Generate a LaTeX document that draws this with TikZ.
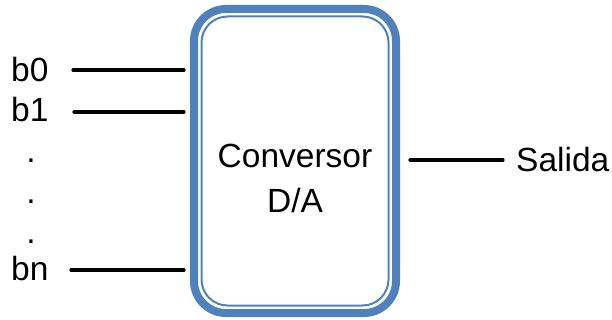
\documentclass[tikz,border=0pt]{standalone}
\usepackage{fontspec}
\setmainfont{Liberation Sans}
\usetikzlibrary{calc}
\definecolor{boxblue}{HTML}{4F81BD}
\begin{document}
\begin{tikzpicture}[x=1pt,y=-1pt,
  lbl/.style={inner sep=0pt, font=\fontsize{33.5}{40}\selectfont},
  wire/.style={line width=3.2pt, line cap=round},
  outerbox/.style={draw=boxblue, line width=8pt, rounded corners=32pt, minimum width=202pt, minimum height=304pt, inner sep=0pt, outer sep=0pt},
  innerbox/.style={draw=boxblue, line width=2pt, rounded corners=26pt}]
\useasboundingbox (0,0) rectangle (612,320);
\node[outerbox] (box) at (295,161) {};
\draw[innerbox] ($(box.north west)+(7.5,7.5)$) rectangle ($(box.south east)+(-7.5,-7.5)$);
\node[lbl, anchor=base] (t1) at (295,168) {Conversor};
\node[lbl, anchor=base] (t2) at (295,212) {D/A};
\node[lbl, anchor=base west] (b0) at (11,82) {b0};
\node[lbl, anchor=base west] (b1) at (11,122) {b1};
\node[lbl, anchor=base west] (bn) at (11,280) {bn};
\node[lbl, anchor=base] (d1) at (31,163) {.};
\node[lbl, anchor=base] (d2) at (31,204) {.};
\node[lbl, anchor=base] (d3) at (31,243) {.};
\node[lbl, anchor=base west] (out) at (516,172) {Salida};
\coordinate (s0) at (73,70);
\coordinate (s1) at (74,112);
\coordinate (sn) at (71,270);
\coordinate (so) at (503,160);
\draw[wire] (s0) -- ([xshift=-10pt]box.west |- s0);
\draw[wire] (s1) -- ([xshift=-10pt]box.west |- s1);
\draw[wire] (sn) -- ([xshift=-10pt]box.west |- sn);
\draw[wire] ([xshift=14pt]box.east |- so) -- (so);
\end{tikzpicture}
\end{document}
